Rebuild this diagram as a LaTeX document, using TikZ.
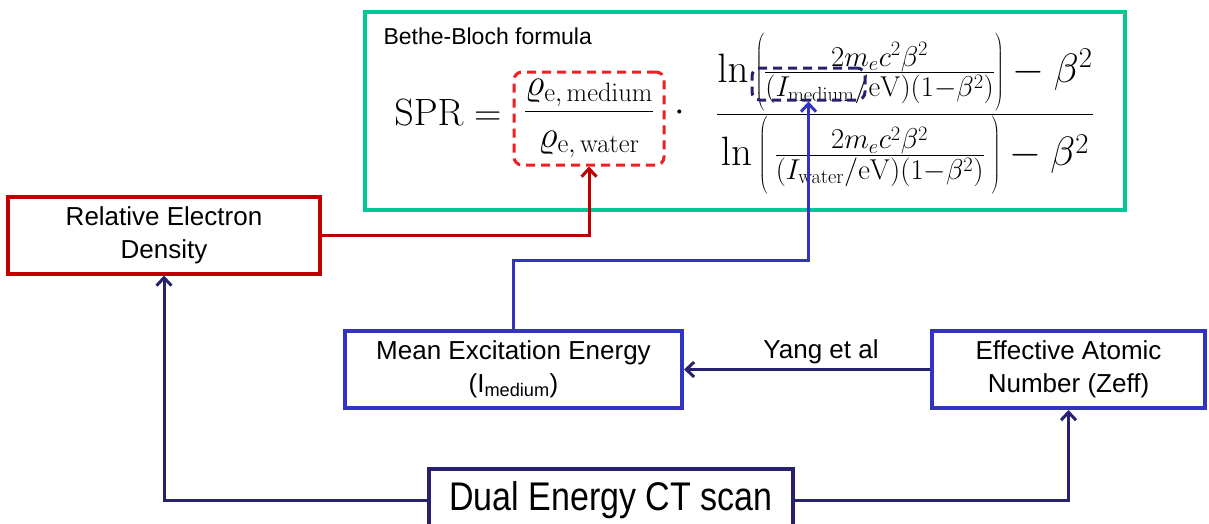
\RequirePackage{fix-cm}
\documentclass[tikz,border=0pt]{standalone}
\usepackage[no-math]{fontspec}
\setmainfont{Liberation Sans}
\usetikzlibrary{arrows.meta}
\definecolor{bbgreen}{RGB}{0,200,150}
\definecolor{densred}{RGB}{192,0,0}
\definecolor{dashred}{RGB}{240,30,30}
\definecolor{meanblue}{RGB}{50,50,195}
\definecolor{ctnavy}{RGB}{40,34,110}
\newcommand{\tallstrut}{\rule[-30pt]{0pt}{80pt}}
\begin{document}
\begin{tikzpicture}[x=1pt,y=-1pt,
    box/.style={draw,line width=4pt,fill=white,align=center,inner sep=0pt,
        minimum height=77pt,font=\fontsize{26}{33}\selectfont},
    link/.style={line width=3pt,-{Straight Barb[length=8pt,width=15pt]}},
    dashbox/.style={draw,dashed,line width=3pt,rounded corners=8pt,dash pattern=on 9pt off 6pt},
    mathtext/.style={inner sep=0pt,font=\fontsize{38}{40}\selectfont}]
    \useasboundingbox (0,0) rectangle (1209,523);
    % formula
    \node[draw=bbgreen,line width=3.5pt,minimum width=760pt,minimum height=198pt] (bethe) at (745,111) {};
    \node[anchor=west,font=\fontsize{23}{26}\selectfont] (bbtitle) at (380,36) {Bethe-Bloch formula};
    \node[mathtext] (spr) at (448,113) {$\mathrm{SPR}=$};
    \node[mathtext,dashbox,draw=dashred,minimum width=150pt,minimum height=93pt] (rho) at (589,118.5)
        {$\displaystyle\frac{\varrho_{\mathrm{e,\,medium}}}{\varrho_{\mathrm{e,\,water}}}$};
    \node[mathtext] (dot) at (680,113) {$\cdot$};
    \node[mathtext,font=\fontsize{41}{44}\selectfont] (ratio) at (905,114)
        {$\displaystyle\frac{\ln\left(\tallstrut\frac{2m_ec^2\beta^2}{(I_{\mathrm{medium}}/\mathrm{eV})(1-\beta^2)}\right)-\beta^2}
          {\ln\left(\tallstrut\,\frac{2m_ec^2\beta^2}{(I_{\mathrm{water}}/\mathrm{eV})(1-\beta^2)}\,\right)-\beta^2}$};
    \node[dashbox,draw=ctnavy,minimum width=113pt,minimum height=32pt] (imed) at (808.5,84) {};
    % boxes
    \node[box,draw=densred,minimum width=312pt] (dens) at (164,235) {Relative Electron\\Density};
    \node[box,draw=meanblue,minimum width=337pt] (mean) at (513.5,369.5) {Mean Excitation Energy\\(I\textsubscript{medium})};
    \node[box,draw=meanblue,minimum width=273pt] (zeff) at (1068.5,369.5) {Effective Atomic\\Number (Zeff)};
    \node[box,draw=ctnavy,minimum width=364pt,minimum height=62pt,font=\fontsize{40}{44}\selectfont] (dect) at (611,500)
        {\scalebox{0.85}[1]{Dual Energy CT scan}};
    % connectors
    \draw[link,densred] (dens.east) -| (rho.south);
    \draw[link,meanblue] (mean.north) -- (mean.north |- 0,260) -| (imed.south);
    \draw[link,ctnavy] (zeff.west) -- node[above=1pt,xshift=14pt,font=\fontsize{26}{30}\selectfont,black] (yang) {Yang et al} (mean.east);
    \draw[link,ctnavy] (dect.west) -| (dens.south);
    \draw[link,ctnavy] (dect.east) -| (zeff.south);
\end{tikzpicture}
\end{document}
